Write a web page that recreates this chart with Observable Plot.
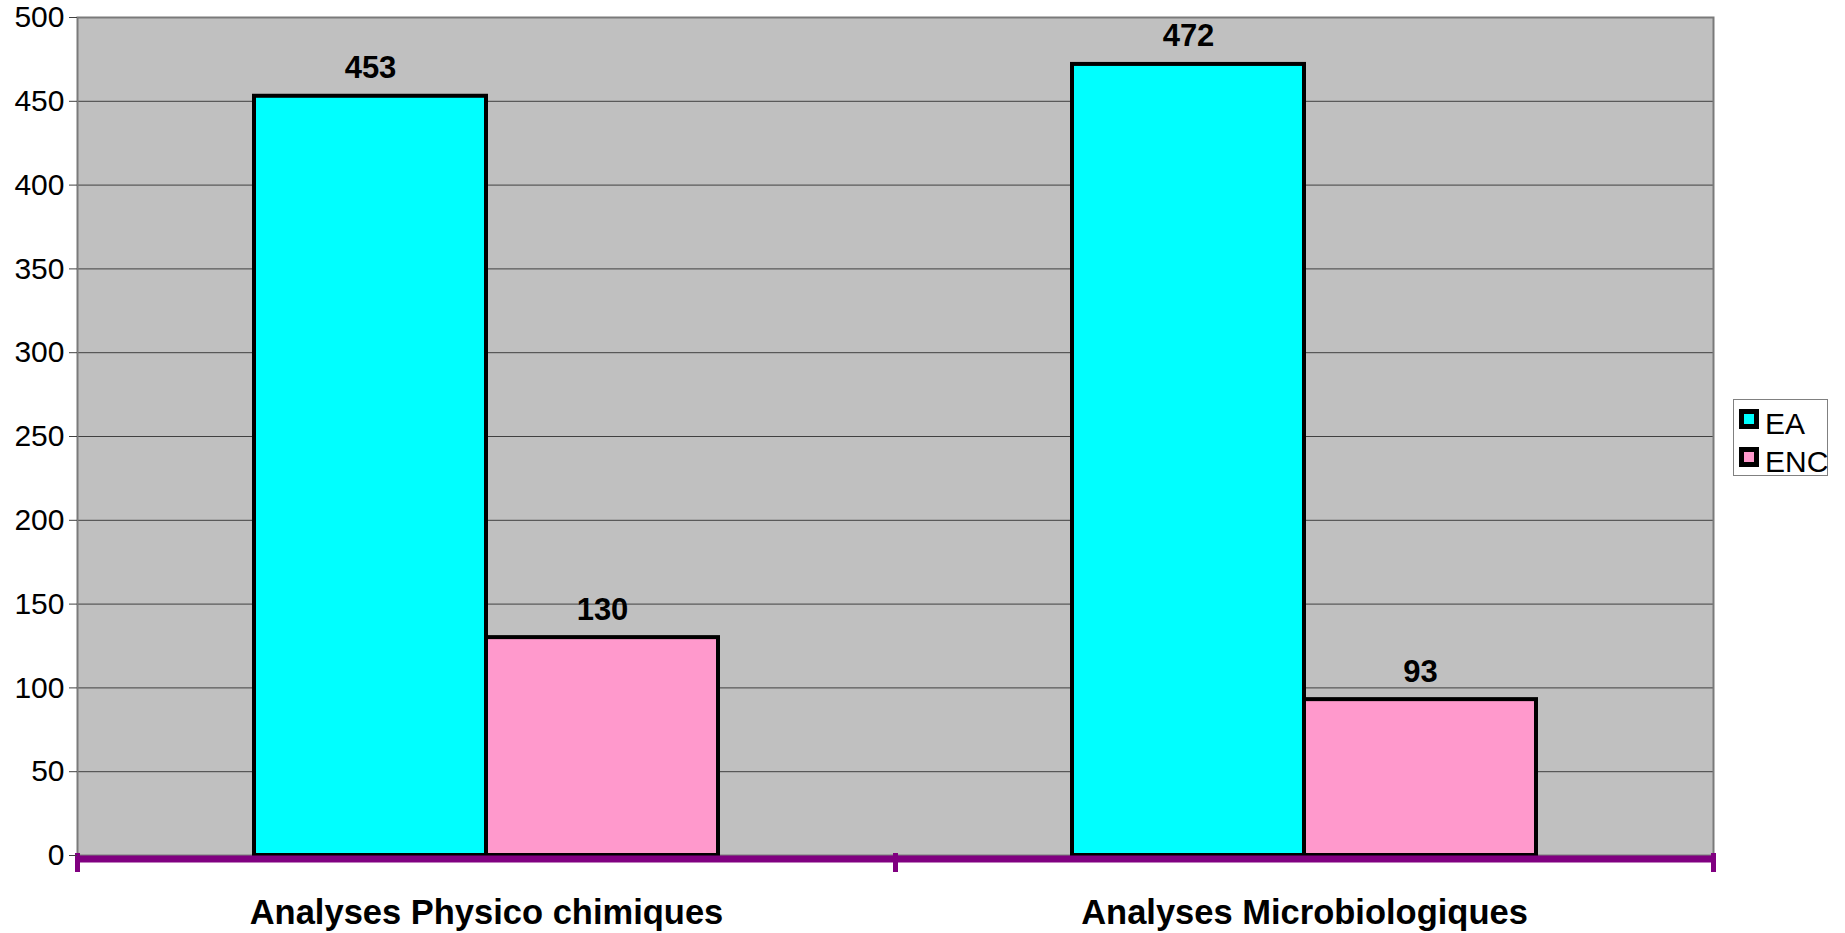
<!DOCTYPE html>
<html>
<head>
<meta charset="utf-8">
<script src="https://cdn.jsdelivr.net/npm/d3@7"></script>
<script src="https://cdn.jsdelivr.net/npm/@observablehq/plot@0.6"></script>
<style>
  html, body { margin: 0; padding: 0; background: #ffffff; }
  #wrap { position: relative; width: 1845px; height: 933px; font-family: "Liberation Sans", Arial, sans-serif; }
  #legend { position: absolute; left: 1733px; top: 399px; width: 93px; height: 75px; border: 1px solid #808080; background: #ffffff; }
  #legend .sw { position: absolute; left: 5px; width: 10px; height: 10px; border: 5px solid #000; }
  #legend .lb { position: absolute; left: 31px; font-size: 30px; line-height: 30px; color: #000; white-space: nowrap; }
  svg [aria-label="fx-axis tick label"] text { font-weight: bold; }
</style>
</head>
<body>
<div id="wrap"><div id="chart"></div><div id="legend"></div></div>
<script>
const categories = ["Analyses Physico chimiques", "Analyses Microbiologiques"];
const series = ["EA", "ENC"];
const valuesEA = [453, 472];
const valuesENC = [130, 93];
const seriesColors = ["#00FFFF", "#FF99CC"];
const yTicks = [0, 50, 100, 150, 200, 250, 300, 350, 400, 450, 500];

const data = [];
categories.forEach((c, i) => {
  data.push({category: c, series: series[0], value: valuesEA[i]});
  data.push({category: c, series: series[1], value: valuesENC[i]});
});

const plotHeight = 933, mTop = 17, mBottom = 78;
const innerH = plotHeight - mTop - mBottom;

const chart = Plot.plot({
  width: 1845,
  height: plotHeight,
  marginTop: mTop,
  marginBottom: mBottom,
  marginLeft: 76,
  marginRight: 132,
  style: {fontFamily: "'Liberation Sans', Arial, sans-serif", background: "#ffffff", color: "#000000", overflow: "visible"},
  fx: {domain: categories, padding: 0, label: null, axis: null},
  x: {domain: series, paddingInner: 0, paddingOuter: 0.756, axis: null},
  y: {domain: [0, 500], axis: null},
  color: {domain: series, range: seriesColors},
  marks: [
    Plot.frame({facet: "super", fill: "#c0c0c0", stroke: null}),
    Plot.gridY(yTicks, {stroke: "#404040", strokeOpacity: 1, strokeWidth: 1}),
    Plot.frame({facet: "super", stroke: "#7a7a7a", strokeWidth: 2, fill: "none"}),
    Plot.barY(data, {fx: "category", x: "series", y: "value", fill: "series", stroke: "#000000", strokeWidth: 4}),
    Plot.text(data, {fx: "category", x: "series", y: "value", text: d => String(d.value), lineAnchor: "bottom", dy: -18, fontSize: 31, fontWeight: "bold", fill: "#000000"}),
    Plot.ruleY([0], {stroke: "#800080", strokeWidth: 7, dy: 3.5}),
    Plot.frame({anchor: "left", stroke: "#800080", strokeWidth: 5, insetTop: innerH, insetBottom: -14}),
    Plot.frame({anchor: "right", stroke: "#800080", strokeWidth: 5, insetTop: innerH, insetBottom: -14}),
    Plot.axisY(yTicks, {tickSize: 8, tickPadding: 5, fontSize: 30, stroke: "#404040", fill: "#000000", label: null}),
    Plot.axisFx({anchor: "bottom", tickSize: 0, tickPadding: 43.5, fontSize: 34.5, fontWeight: "bold", fill: "#000000", label: null})
  ]
});
document.getElementById("chart").appendChild(chart);

const legend = document.getElementById("legend");
const legendTops = [9, 47];
series.forEach((s, i) => {
  const sw = document.createElement("div");
  sw.className = "sw";
  sw.style.top = legendTops[i] + "px";
  sw.style.background = seriesColors[i];
  legend.appendChild(sw);
  const lb = document.createElement("div");
  lb.className = "lb";
  lb.style.top = (legendTops[i] - 0.5) + "px";
  lb.textContent = s;
  legend.appendChild(lb);
});
</script>
</body>
</html>
